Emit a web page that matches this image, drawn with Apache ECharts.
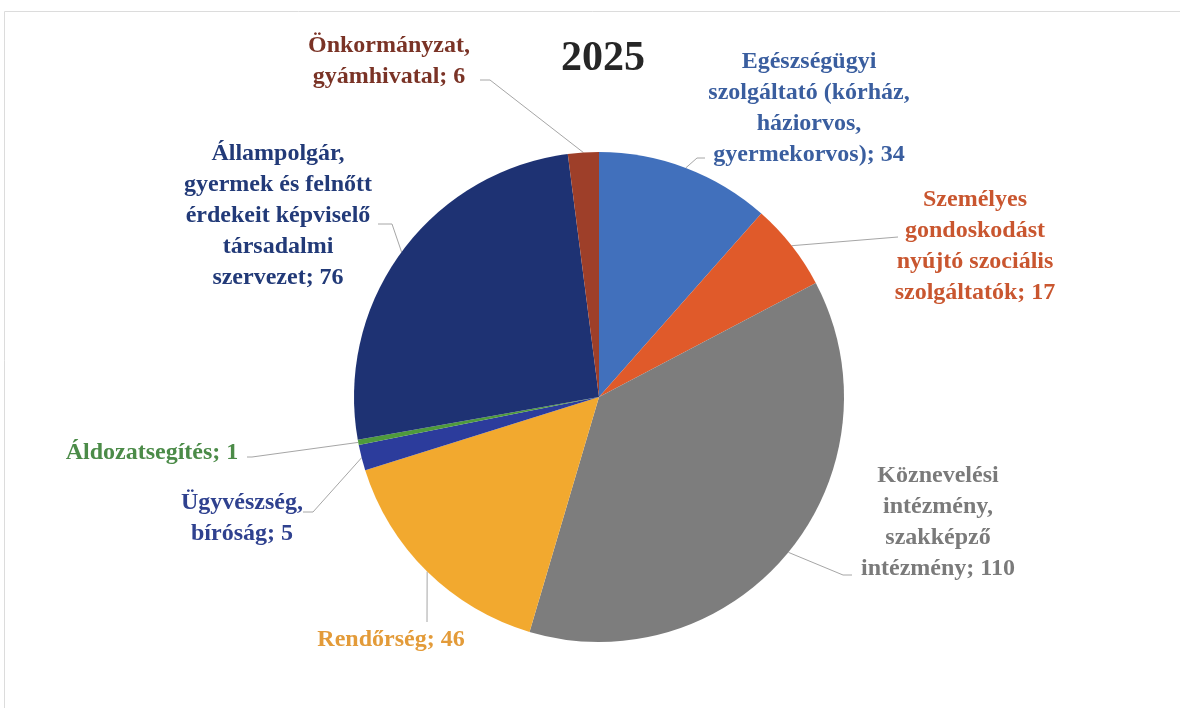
<!DOCTYPE html>
<html lang="hu">
<head>
  <meta charset="UTF-8">
  <script src="https://cdn.jsdelivr.net/npm/echarts@6/dist/echarts.min.js"></script>
  <title>2025</title>
  <style>
    html, body { margin: 0; padding: 0; background: #fff; }
  </style>
</head>
<body>
  <div id="main" style="width: 1180px;height:708px;"></div>
  <script type="text/javascript">
    // adatok
    var categories = [
      'Egészségügyi\nszolgáltató (kórház,\nháziorvos,\ngyermekorvos)',
      'Személyes\ngondoskodást\nnyújtó szociális\nszolgáltatók',
      'Köznevelési\nintézmény,\nszakképző\nintézmény',
      'Rendőrség',
      'Ügyvészség,\nbíróság',
      'Áldozatsegítés',
      'Állampolgár,\ngyermek és felnőtt\nérdekeit képviselő\ntársadalmi\nszervezet',
      'Önkormányzat,\ngyámhivatal'
    ];
    var values = [34, 17, 110, 46, 5, 1, 76, 6];
    var sliceColors = ['#4170BC', '#E05A2A', '#7D7D7D', '#F2A92F', '#2C3C9C', '#4F9A3C', '#1E3273', '#9E3F29'];
    var labelColors = ['#3A5E9F', '#C9562F', '#7A7A7A', '#E39B39', '#2F418F', '#4B8B48', '#223A78', '#7A3326'];

    // címkék helye (szöveg közepe)
    var labelPos = [
      [809, 108], [975, 246], [938, 522], [391, 640],
      [242, 518], [152, 453], [278, 216], [389, 61]
    ];
    // vezetővonalak töréspontja és vége a címke mellett
    var lineEnds = [
      [[697, 158], [705, 158]],
      [[898, 237], [898, 237]],
      [[843, 575], [852, 575]],
      [[427, 622], [427, 622]],
      [[313, 512], [303, 512]],
      [[252, 457], [247, 457]],
      [[392, 224], [378, 224]],
      [[490, 80], [480, 80]]
    ];

    var myChart = echarts.init(document.getElementById('main'));

    var data = values.map(function (v, i) {
      return {
        name: categories[i],
        value: v,
        itemStyle: { color: sliceColors[i] },
        label: { color: labelColors[i] }
      };
    });

    var option = {
      backgroundColor: '#fff',
      animation: false,
      title: {
        text: '2025',
        left: 598,
        top: 33,
        textAlign: 'center',
        textStyle: {
          fontFamily: 'Liberation Serif',
          fontWeight: 'bold',
          fontSize: 42,
          color: '#262626'
        }
      },
      graphic: [{
        type: 'rect',
        shape: { x: 4.5, y: 11.5, width: 1200, height: 720 },
        style: { fill: 'none', stroke: '#dcdcdc', lineWidth: 1 },
        silent: true
      }],
      series: [{
        type: 'pie',
        center: [599, 397],
        radius: [0, 245],
        startAngle: 90,
        clockwise: true,
        data: data,
        itemStyle: { borderWidth: 0 },
        label: {
          show: true,
          formatter: '{b}; {c}',
          fontFamily: 'Liberation Serif',
          fontWeight: 'bold',
          fontSize: 24,
          lineHeight: 31,
          align: 'center'
        },
        labelLine: {
          show: true,
          length: 20,
          length2: 20,
          lineStyle: { color: '#a6a6a6', width: 1 }
        },
        labelLayout: function (params) {
          var i = params.dataIndex;
          var p = labelPos[i];
          var res = {
            x: p[0],
            y: p[1],
            align: 'center',
            verticalAlign: 'middle'
          };
          if (params.labelLinePoints) {
            res.labelLinePoints = [params.labelLinePoints[0], lineEnds[i][0], lineEnds[i][1]];
          }
          return res;
        }
      }]
    };

    myChart.setOption(option);
  </script>
</body>
</html>
